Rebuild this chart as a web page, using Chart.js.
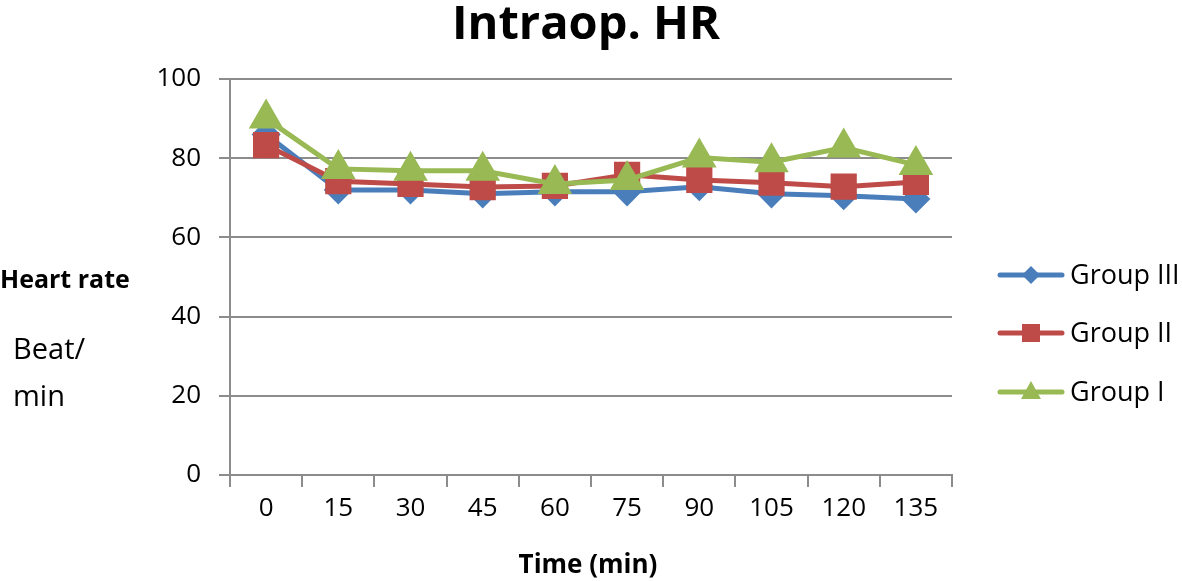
<!DOCTYPE html>
<html><head><meta charset="utf-8">
<script src="https://cdn.jsdelivr.net/npm/chart.js@4"></script>
<style>html,body{margin:0;padding:0;background:#fff}#wrap{width:1182px;height:581px}</style>
</head><body><div id="wrap"><canvas id="c" width="1182" height="581"></canvas></div>
<script>
const categories = ["0","15","30","45","60","75","90","105","120","135"];
const groupIII = [86, 72, 72, 71, 71.5, 71.5, 72.8, 71, 70.5, 69.7];
const groupII  = [83.3, 74.2, 73.5, 72.7, 73, 75.8, 74.5, 73.8, 72.8, 74];
const groupI   = [90, 77.3, 76.8, 76.8, 73.5, 74.5, 80.2, 79, 82.7, 78.3];
const yTicks = [0, 20, 40, 60, 80, 100];

const FONT = "'Open Sans', sans-serif";
const textPlugin = {
  id: 'texts',
  afterDraw(chart) {
    const ctx = chart.ctx;
    ctx.save();
    ctx.fillStyle = '#000';
    ctx.textBaseline = 'alphabetic';
    ctx.textAlign = 'center';
    ctx.font = "bold 47px " + FONT;
    ctx.fillText("Intraop. HR", 586, 39);
    ctx.font = "bold 26px " + FONT;
    ctx.fillText("Time (min)", 588, 573);
    ctx.textAlign = 'left';
    ctx.font = "bold 25px " + FONT;
    ctx.fillText("Heart rate", 0, 288);
    ctx.font = "29px " + FONT;
    ctx.fillText("Beat/", 13, 359);
    ctx.fillText("min", 13, 406);
    // legend
    const ys = [275, 333, 392];
    chart.data.datasets.forEach((d, k) => {
      const y = ys[k];
      ctx.strokeStyle = d.borderColor;
      ctx.lineWidth = 5;
      ctx.lineCap = 'round';
      ctx.beginPath(); ctx.moveTo(1000, y); ctx.lineTo(1062, y); ctx.stroke();
      ctx.fillStyle = d.borderColor;
      const cx = 1031;
      ctx.beginPath();
      if (d.pointStyle === 'rectRot') {
        ctx.moveTo(cx, y - 9); ctx.lineTo(cx + 9, y); ctx.lineTo(cx, y + 9); ctx.lineTo(cx - 9, y);
      } else if (d.pointStyle === 'rect') {
        ctx.rect(cx - 9, y - 9, 18, 18);
      } else {
        ctx.moveTo(cx, y - 11); ctx.lineTo(cx + 10, y + 7); ctx.lineTo(cx - 10, y + 7);
      }
      ctx.closePath(); ctx.fill();
      ctx.fillStyle = '#000';
      ctx.font = "27px " + FONT;
      ctx.textBaseline = 'middle';
      ctx.fillText(d.label, 1070, y + 1);
      ctx.textBaseline = 'alphabetic';
    });
    ctx.restore();
  }
};

new Chart(document.getElementById('c'), {
  type: 'line',
  data: {
    labels: categories,
    datasets: [
      {label: 'Group III', data: groupIII, order: 3, borderColor: '#4a7ebb', backgroundColor: '#4a7ebb', pointStyle: 'rectRot', pointRadius: 11, borderWidth: 5, tension: 0},
      {label: 'Group II', data: groupII, order: 2, borderColor: '#be4b48', backgroundColor: '#be4b48', pointStyle: 'rect', pointRadius: 15, borderWidth: 5, tension: 0},
      {label: 'Group I', data: groupI, order: 1, borderColor: '#98b954', backgroundColor: '#98b954', pointStyle: 'triangle', pointRadius: 15, borderWidth: 5, tension: 0}
    ]
  },
  options: {
    responsive: false,
    animation: false,
    devicePixelRatio: 1,
    layout: {padding: {top: 79, right: 230, left: 0, bottom: 0}},
    plugins: {legend: {display: false}, title: {display: false}, tooltip: {enabled: false}},
    scales: {
      x: {
        offset: true,
        grid: {offset: true, drawOnChartArea: false, color: '#8c8c8c', tickLength: 12, lineWidth: 2},
        border: {color: '#8c8c8c', width: 2},
        ticks: {color: '#000', font: {family: FONT, size: 26}, padding: 6, maxRotation: 0},
        afterFit(s) { s.height = 106; }
      },
      y: {
        min: 0, max: 100,
        afterBuildTicks(s) { s.ticks = yTicks.map(v => ({value: v})); },
        grid: {color: '#8c8c8c', tickLength: 11, lineWidth: 2},
        border: {color: '#8c8c8c', width: 2},
        ticks: {color: '#000', font: {family: FONT, size: 26}, padding: 18},
        afterFit(s) { s.width = 230; }
      }
    }
  },
  plugins: [textPlugin]
});
</script></body></html>
